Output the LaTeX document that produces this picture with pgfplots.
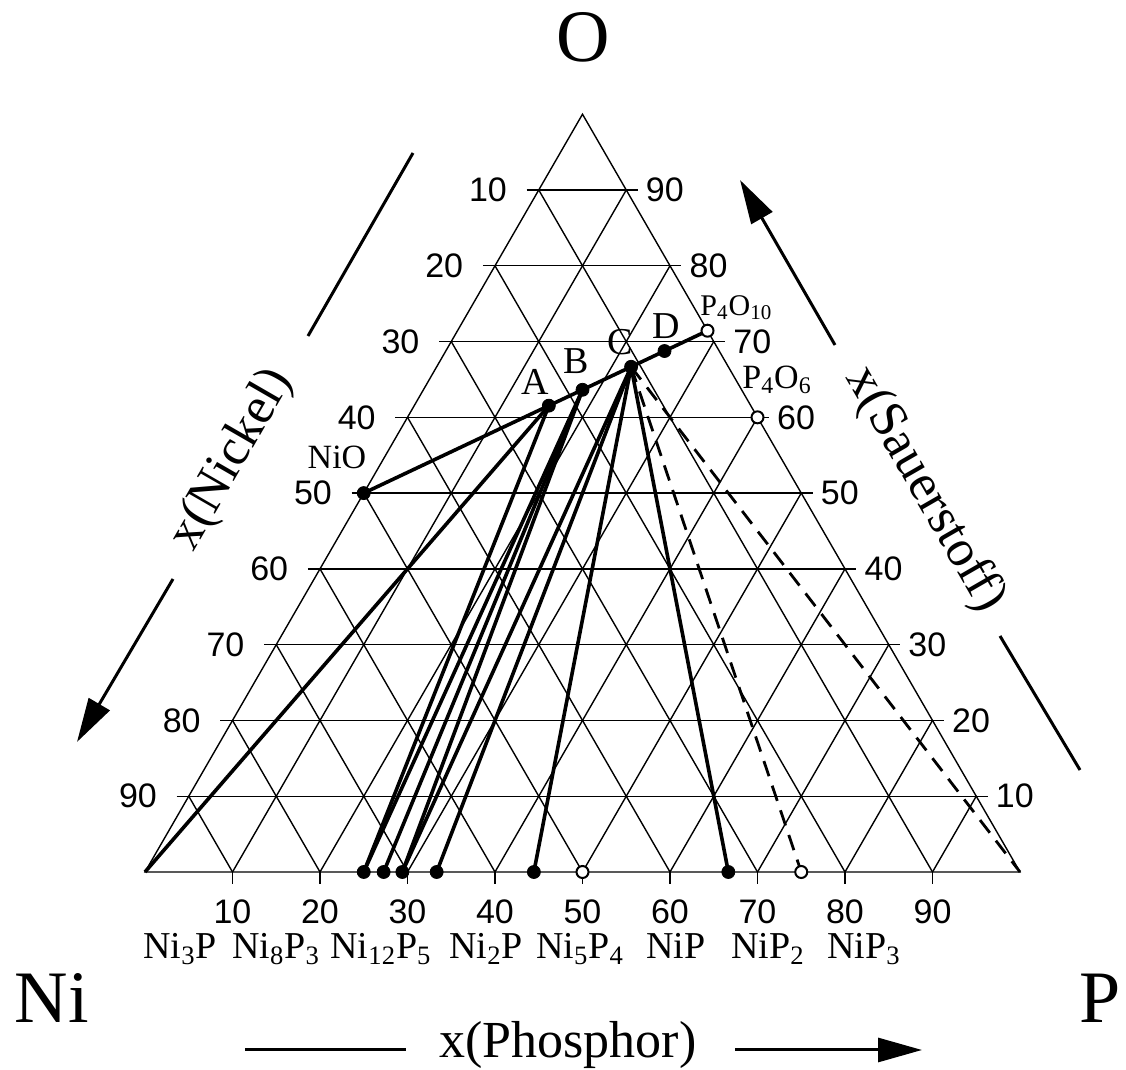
\documentclass[border=0pt]{standalone}
\usepackage{pgfplots}
\pgfplotsset{compat=1.18}
\usepackage{fontspec}
\setmainfont{Liberation Serif}
\newfontfamily\numfont{Liberation Sans}
\usetikzlibrary{arrows.meta}

% ternary (P, O) in mol-% -> Cartesian: X = P + O/2, Y = sqrt(3)/2 * O
\pgfplotsset{
  table/tern/.style={x expr=\thisrow{P}+0.5*\thisrow{O}, y expr=0.8660254*\thisrow{O}},
}
\tikzset{
  gridline/.style={line width=0.7pt, black},
  tie/.style={line width=1.8pt, black, no markers},
  tiedash/.style={line width=1.4pt, black, no markers, dash pattern=on 8pt off 5pt},
  numlab/.style={font=\numfont\fontsize{17}{20}\selectfont, inner sep=0pt},
  cmp/.style={font=\fontsize{19}{22}\selectfont, inner sep=0pt},
}

\begin{document}
\begin{tikzpicture}
\begin{axis}[
  x=4.375pt, y=4.375pt,
  xmin=-16.5714, xmax=112.1143, ymin=-22.6286, ymax=99.6571,
  hide axis, clip=false,
]
\path (rel axis cs:0,0) rectangle (rel axis cs:1,1);
\coordinate (tl) at (rel axis cs:0,1);

% triangle and 10 % grid
\draw[gridline] (axis cs:0,0) -- (axis cs:100,0) -- (axis cs:50,86.60254) -- cycle;
\pgfplotsinvokeforeach{10,20,...,90}{
  \draw[gridline] (axis cs:{#1/2-1.4},{0.8660254*#1}) -- (axis cs:{100-#1/2+1.3},{0.8660254*#1});
  \draw[gridline] (axis cs:#1,0) -- (axis cs:{#1+(100-#1)/2},{0.8660254*(100-#1)});
  \draw[gridline] (axis cs:{100-#1},0) -- (axis cs:{(100-#1)/2},{0.8660254*(100-#1)});
  \draw[gridline] (axis cs:#1,0) -- (axis cs:#1,-1.4);
  \node[numlab, anchor=east] at (axis cs:{(100-#1)/2-3.6},{0.8660254*(100-#1)}) {#1};
  \node[numlab, anchor=west] at (axis cs:{100-#1/2+2.2},{0.8660254*#1}) {#1};
  \node[numlab] at (axis cs:#1,-4.5) {#1};
}

% tie lines
\addplot[tie] table[tern]{
P O
0 0
15.385 61.538
};
\addplot[tie] table[tern]{
P O
25 0
15.385 61.538
};
\addplot[tie] table[tern]{
P O
25 0
18.182 63.636
};
\addplot[tie] table[tern]{
P O
27.273 0
18.182 63.636
};
\addplot[tie] table[tern]{
P O
29.412 0
18.182 63.636
};
\addplot[tie] table[tern]{
P O
29.412 0
22.222 66.667
};
\addplot[tie] table[tern]{
P O
33.333 0
22.222 66.667
};
\addplot[tie] table[tern]{
P O
44.444 0
22.222 66.667
};
\addplot[tie] table[tern]{
P O
66.667 0
22.222 66.667
};
\addplot[tiedash] table[tern]{
P O
22.222 66.667
75 0
};
\addplot[tiedash] table[tern]{
P O
22.222 66.667
100 0
};
% NiO - P4O10 join
\addplot[tie] table[tern]{
P O
0 50
15.385 61.538
18.182 63.636
22.222 66.667
25 68.75
28.571 71.429
};

% phases
\addplot[only marks, mark=*, mark size=3.25pt, black] table[tern]{
P O
0 50
15.385 61.538
18.182 63.636
22.222 66.667
25 68.75
25 0
27.273 0
29.412 0
33.333 0
44.444 0
66.667 0
};
\addplot[only marks, mark=*, mark size=3pt, black, mark options={fill=white, line width=1pt}] table[tern]{
P O
28.571 71.429
40 60
50 0
75 0
};
\end{axis}

\begin{scope}[shift={(tl)}, x=0.5pt, y=-0.5pt]
  % corner labels
  \node[font=\fontsize{37}{40}\selectfont, inner sep=0pt] at (583,37) {O};
  \node[font=\fontsize{37}{40}\selectfont, inner sep=0pt] at (52,998) {Ni};
  \node[font=\fontsize{37}{40}\selectfont, inner sep=0pt] at (1100,998) {P};
  % phase labels
  \node[font=\fontsize{17}{20}\selectfont, inner sep=0pt] at (337,457) {NiO};
  \node[font=\fontsize{19}{22}\selectfont, inner sep=0pt] at (535,382) {A};
  \node[font=\fontsize{19}{22}\selectfont, inner sep=0pt] at (576,361) {B};
  \node[font=\fontsize{19}{22}\selectfont, inner sep=0pt] at (620,342) {C};
  \node[font=\fontsize{19}{22}\selectfont, inner sep=0pt] at (666,326) {D};
  \node[font=\fontsize{15}{18}\selectfont, inner sep=0pt, anchor=west] at (700,308) {P\textsubscript{4}O\textsubscript{10}};
  \node[font=\fontsize{17}{20}\selectfont, inner sep=0pt, anchor=west] at (742,380) {P\textsubscript{4}O\textsubscript{6}};
  \node[cmp, anchor=base] at (180,959) {Ni\textsubscript{3}P};
  \node[cmp, anchor=base] at (276,959) {Ni\textsubscript{8}P\textsubscript{3}};
  \node[cmp, anchor=base] at (381,959) {Ni\textsubscript{12}P\textsubscript{5}};
  \node[cmp, anchor=base] at (486,959) {Ni\textsubscript{2}P};
  \node[cmp, anchor=base] at (580,959) {Ni\textsubscript{5}P\textsubscript{4}};
  \node[cmp, anchor=base] at (676,959) {NiP};
  \node[cmp, anchor=base] at (768,959) {NiP\textsubscript{2}};
  \node[cmp, anchor=base] at (864,959) {NiP\textsubscript{3}};
  % axis titles and arrows
  \node[font=\fontsize{26}{30}\selectfont, inner sep=0pt, rotate=60] at (232,460) {x(Nickel)};
  \node[font=\fontsize{26}{30}\selectfont, inner sep=0pt, rotate=-60] at (925,490) {x(Sauerstoff)};
  \node[font=\fontsize{26}{30}\selectfont, inner sep=0pt] at (568,1045) {x(Phosphor)};
  \draw[line width=1.5pt] (413,153) -- (308,336);
  \draw[line width=1.5pt, -{Triangle[length=22pt,width=12pt]}] (173,579) -- (77,742);
  \draw[line width=1.5pt, -{Triangle[length=22pt,width=12pt]}] (835,345) -- (740,180);
  \draw[line width=1.5pt] (1000,636) -- (1080,770);
  \draw[line width=1.5pt] (245,1050) -- (406,1050);
  \draw[line width=1.5pt, -{Triangle[length=22pt,width=12pt]}] (735,1050) -- (922,1050);
\end{scope}
\end{tikzpicture}
\end{document}
